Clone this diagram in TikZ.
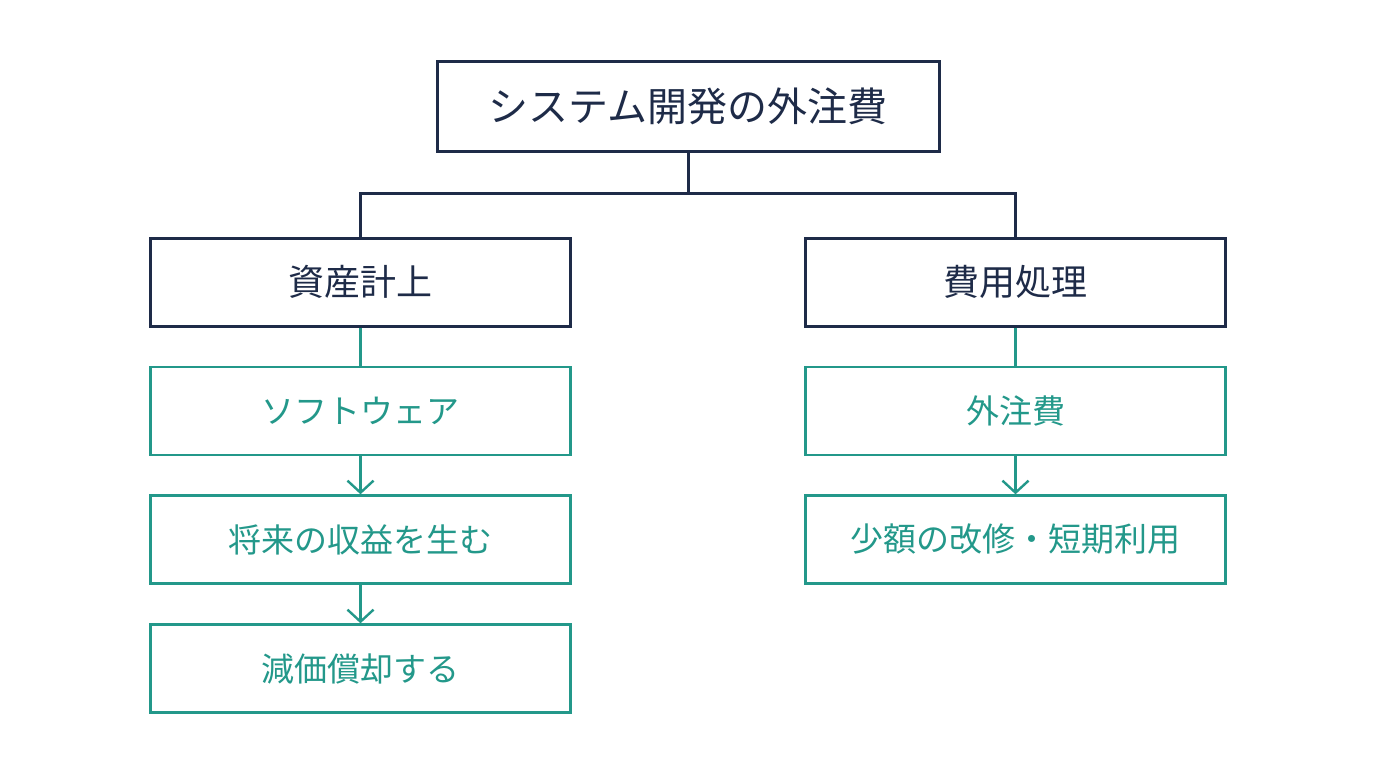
\documentclass[tikz,border=0pt]{standalone}
\usepackage{fontspec}
\newfontfamily\cjk{Noto Sans CJK JP}
\usetikzlibrary{arrows.meta,positioning}
\definecolor{navy}{HTML}{1E2B48}
\definecolor{teal2}{HTML}{23988A}
\tikzset{
  head/.style={draw=navy,line width=1.5pt,text=navy,minimum width=251pt,minimum height=45pt,font=\cjk\fontsize{20}{24}\selectfont},
  cat/.style={draw=navy,line width=1.5pt,text=navy,minimum width=210pt,minimum height=44pt,font=\cjk\fontsize{18}{22}\selectfont},
  item/.style={draw=teal2,line width=1.2pt,text=teal2,minimum width=210pt,minimum height=44pt,font=\cjk\fontsize{16.5}{20}\selectfont},
  link/.style={navy,line width=1.5pt},
  flow/.style={teal2,line width=1.2pt,-{Straight Barb[length=6pt,width=13pt]}}
}
\begin{document}
\begin{tikzpicture}[x=0.5pt,y=-0.5pt]
  \useasboundingbox (0,0) rectangle (1376,768);

  \node[head] (top) at (688,106) {システム開発の外注費};
  \node[cat] (asset) at (360.5,282) {資産計上};
  \node[cat] (cost) at (1015.5,282) {費用処理};

  \node[item] (sw) at (360.5,411) {ソフトウェア};
  \node[item] (gain) at (360.5,539.5) {将来の収益を生む};
  \node[item] (dep) at (360.5,668.5) {減価償却する};

  \node[item] (fee) at (1015.5,411) {外注費};
  \node[item] (small) at (1015.5,539.5) {少額の改修・短期利用};

  \coordinate (split) at (688,193);
  \draw[link] (top) -- (split) -| (asset);
  \draw[link] (split) -| (cost);
  \draw[teal2,line width=1.2pt] (asset) -- (sw);
  \draw[teal2,line width=1.2pt] (cost) -- (fee);
  \draw[flow] (sw) -- (gain);
  \draw[flow] (gain) -- (dep);
  \draw[flow] (fee) -- (small);
\end{tikzpicture}
\end{document}
